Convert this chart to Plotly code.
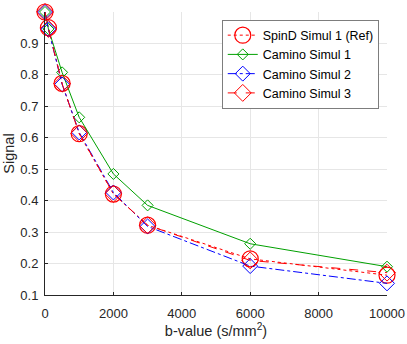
import plotly.graph_objects as go

bvals = [0, 100, 500, 1000, 2000, 3000, 6000, 10000]
spind_ref = [1.0, 0.950, 0.773, 0.613, 0.421, 0.322, 0.215, 0.163]
camino_1 = [1.0, 0.946, 0.808, 0.665, 0.485, 0.385, 0.263, 0.190]
camino_2 = [1.0, 0.945, 0.770, 0.617, 0.426, 0.318, 0.192, 0.137]
camino_3 = [1.0, 0.946, 0.772, 0.614, 0.422, 0.322, 0.210, 0.171]
names = ["SpinD Simul 1 (Ref)", "Camino Simul 1", "Camino Simul 2", "Camino Simul 3"]
xticks = [0, 2000, 4000, 6000, 8000, 10000]
xticklabels = ["0", "2000", "4000", "6000", "8000", "10000"]
yticks = [0.1, 0.2, 0.3, 0.4, 0.5, 0.6, 0.7, 0.8, 0.9]

fig = go.Figure()
fig.add_trace(go.Scatter(x=bvals, y=spind_ref, name=names[0], mode="lines+markers", cliponaxis=False,
                         line=dict(color="#ff0000", width=1, dash="dot"),
                         marker=dict(symbol="circle-open", size=16, color="#ff0000", line=dict(width=1.2))))
fig.add_trace(go.Scatter(x=bvals, y=camino_1, name=names[1], mode="lines+markers", cliponaxis=False,
                         line=dict(color="#00a000", width=1, dash="solid"),
                         marker=dict(symbol="diamond-open", size=8.5, color="#00a000", line=dict(width=1))))
fig.add_trace(go.Scatter(x=bvals, y=camino_2, name=names[2], mode="lines+markers", cliponaxis=False,
                         line=dict(color="#0000ff", width=1, dash="dashdot"),
                         marker=dict(symbol="diamond-open", size=11.5, color="#0000ff", line=dict(width=1))))
fig.add_trace(go.Scatter(x=bvals, y=camino_3, name=names[3], mode="lines+markers", cliponaxis=False,
                         line=dict(color="#ff0000", width=1, dash="dash"),
                         marker=dict(symbol="diamond-open", size=13, color="#ff0000", line=dict(width=1))))

axis_common = dict(showgrid=True, gridcolor="#e6e6e6", gridwidth=1, zeroline=False,
                   showline=True, linecolor="#262626", linewidth=1, automargin=False,
                   ticks="inside", ticklen=3, tickcolor="#262626",
                   tickfont=dict(family="Liberation Sans, Arial", size=13, color="#262626"))

fig.update_layout(
    width=407, height=344,
    margin=dict(l=45, r=20, t=12, b=49),
    paper_bgcolor="white", plot_bgcolor="white",
    font=dict(family="Liberation Sans, Arial", size=13, color="#262626"),
    xaxis=dict(range=[0, 10000], tickvals=xticks, ticktext=xticklabels,
               ticklabelstandoff=6,
               title=dict(text="b-value (s/mm<sup>2</sup>)", font=dict(size=14.5), standoff=6),
               **axis_common),
    yaxis=dict(range=[0.1, 1.0], tickvals=yticks,
               tickformat=".1f", ticklabelstandoff=3,
               title=dict(text="Signal", font=dict(size=14.5), standoff=2),
               **axis_common),
    legend=dict(x=0.518, y=0.972, xanchor="left", yanchor="top",
                bgcolor="white", bordercolor="#262626", borderwidth=0.6,
                font=dict(size=12.5, color="#000000"), tracegroupgap=0,
                itemwidth=30),
    showlegend=True,
)

fig.write_html("out.html", config={"displayModeBar": False},
               post_script="document.body.style.margin='0';document.body.style.overflow='hidden';")
